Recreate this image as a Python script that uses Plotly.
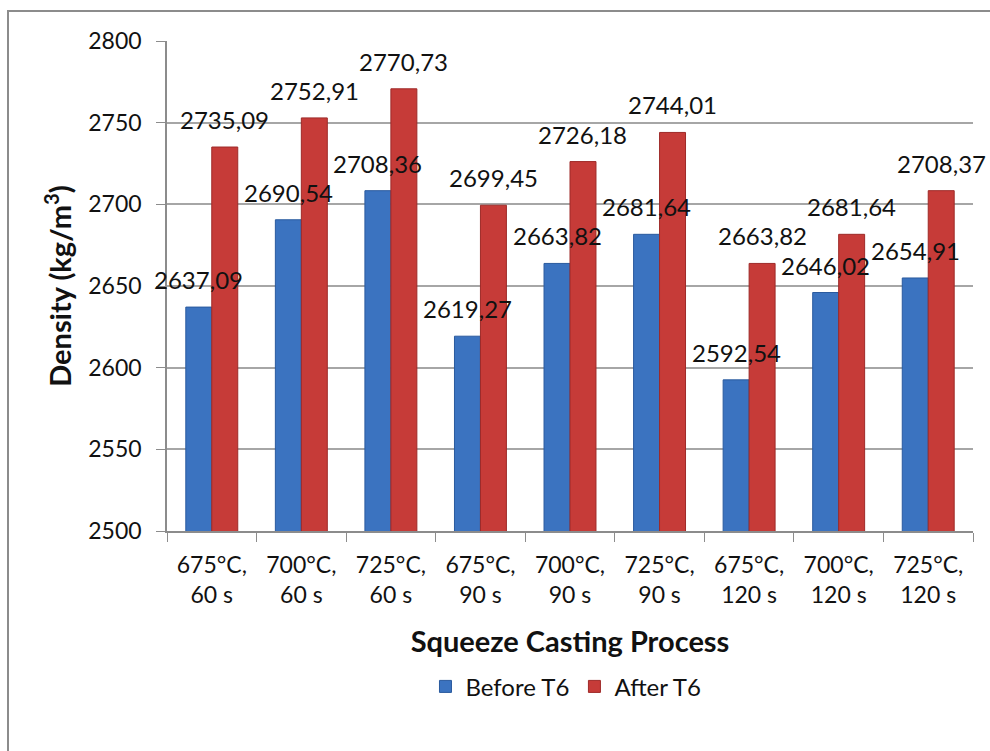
import plotly.graph_objects as go

categories = ["675°C,<br>60 s", "700°C,<br>60 s", "725°C,<br>60 s",
              "675°C,<br>90 s", "700°C,<br>90 s", "725°C,<br>90 s",
              "675°C,<br>120 s", "700°C,<br>120 s", "725°C,<br>120 s"]
before_t6 = [2637.09, 2690.54, 2708.36, 2619.27, 2663.82, 2681.64, 2592.54, 2646.02, 2654.91]
after_t6 = [2735.09, 2752.91, 2770.73, 2699.45, 2726.18, 2744.01, 2663.82, 2681.64, 2708.37]
y_ticks = [2500, 2550, 2600, 2650, 2700, 2750, 2800]

FONT = "Lato"
TXT = "#111111"
BARGAP = 0.42
L, R, T, B = 167, 17, 41, 220
W, H = 990, 751

def fmt(v):
    return f"{v:.2f}".replace(".", ",")

fig = go.Figure()
fig.add_trace(go.Bar(
    name="Before T6", x=categories, y=before_t6,
    marker=dict(color="#3B73C0", line=dict(color="#2A5A9E", width=1)),
))
fig.add_trace(go.Bar(
    name="After T6", x=categories, y=after_t6,
    marker=dict(color="#C63B38", line=dict(color="#9E2A28", width=1)),
))

# data labels drawn above all bars, centred on each bar of the group
plot_w = W - L - R
bar_w = plot_w / len(categories) * (1 - BARGAP) / 2
annotations = []
for series, shift in ((before_t6, -bar_w / 2), (after_t6, bar_w / 2)):
    for c, v in zip(categories, series):
        annotations.append(dict(
            x=c, y=v, xref="x", yref="y", text=fmt(v), showarrow=False,
            xshift=shift, yshift=11, yanchor="bottom", xanchor="center",
            font=dict(family=FONT, size=24, color=TXT),
        ))

fig.update_layout(
    width=W, height=H,
    margin=dict(l=L, r=R, t=T, b=B),
    paper_bgcolor="white", plot_bgcolor="white",
    barmode="group", bargap=BARGAP, bargroupgap=0,
    font=dict(family=FONT, size=23, color=TXT),
    showlegend=True,
    legend=dict(orientation="h", x=0.495, xanchor="center", y=-0.318, yanchor="middle",
                font=dict(family=FONT, size=24, color=TXT),
                traceorder="normal"),
    xaxis=dict(
        range=[-0.5, len(categories) - 0.5], autorange=False,
        tickson="boundaries", ticks="outside", ticklen=9, tickcolor="#8C8C8C",
        showline=True, linecolor="#8C8C8C", linewidth=1.5,
        ticklabelstandoff=13,
        tickfont=dict(family=FONT, size=23, color=TXT),
        title=dict(text="<b>Squeeze Casting Process</b>",
                   font=dict(family=FONT, size=29, color=TXT), standoff=24),
    ),
    yaxis=dict(
        range=[2500, 2800], autorange=False, tickvals=y_ticks,
        ticks="outside", ticklen=9, tickcolor="#8C8C8C",
        showline=True, linecolor="#8C8C8C", linewidth=1.5,
        showgrid=True, gridcolor="#A6A6A6", gridwidth=1.5,
        ticklabelstandoff=10,
        tickfont=dict(family=FONT, size=23, color=TXT),
        title=dict(text="<b>Density (kg/m<sup>3</sup>)</b>",
                   font=dict(family=FONT, size=29, color=TXT), standoff=8),
        zeroline=False,
    ),
    annotations=annotations,
    shapes=[dict(type="rect", xref="paper", yref="paper",
                 x0=(8 - L) / plot_w, x1=1.1, y0=-0.6, y1=1 + (T - 11) / (H - T - B),
                 line=dict(color="#8C8C8C", width=2), fillcolor="rgba(0,0,0,0)",
                 layer="below")],
)

fig.write_html("out.html")
